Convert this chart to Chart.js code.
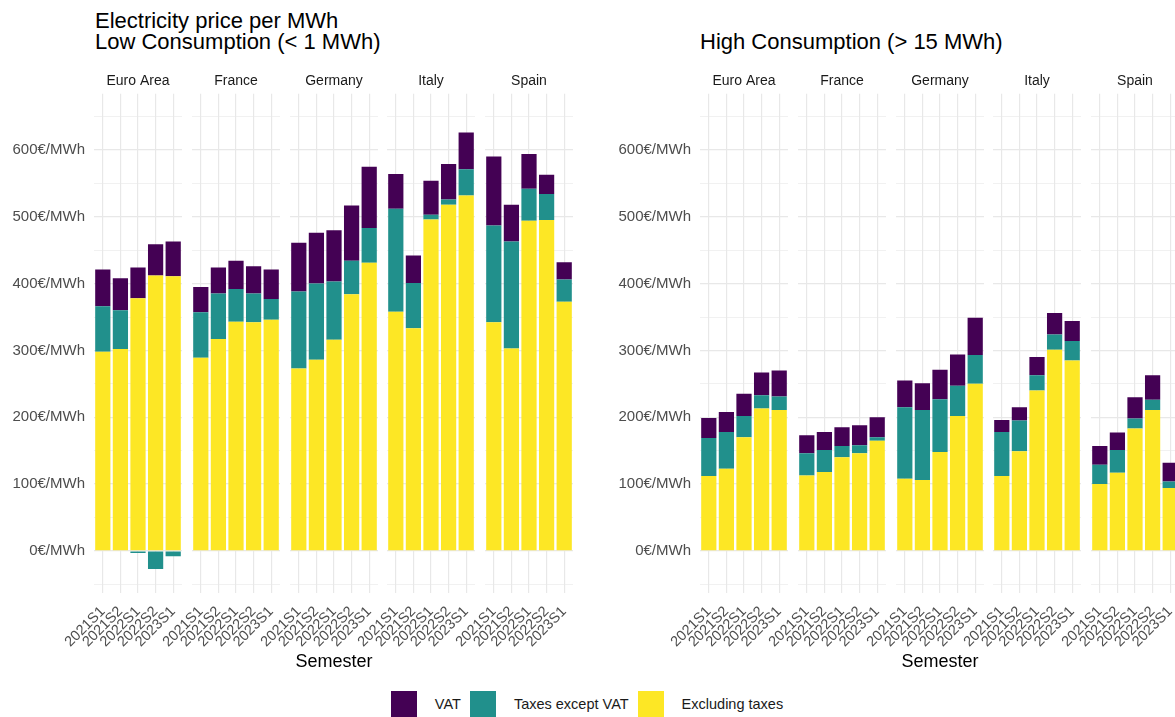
<!DOCTYPE html>
<html>
<head>
<meta charset="utf-8">
<script src="https://cdn.jsdelivr.net/npm/chart.js@4.4.0/dist/chart.umd.min.js"></script>
<style>
  html, body { margin: 0; width: 1175px; height: 717px; overflow: hidden; background: #fff;
    font-family: 'Liberation Sans', Arial, sans-serif; }
  canvas { position: absolute; }
  .title { position: absolute; font-size: 22px; line-height: 21px; color: #000; white-space: nowrap; }
  #legend { position: absolute; top: 691px; left: 4px; width: 1175px; display: flex;
    justify-content: center; align-items: center; font-size: 14.5px; color: #1a1a1a; }
  #legend .box { width: 26px; height: 26px; margin-right: 18px; }
  #legend .txt { margin-right: 9px; }
</style>
</head>
<body>
<div class="title" style="left:95px; top:10px">Electricity price per MWh<br>Low Consumption (&lt; 1 MWh)</div>
<div class="title" style="left:700px; top:31px">High Consumption (&gt; 15 MWh)</div>
<div id="legend"></div>
<script>
  const semesters = ['2021S1', '2021S2', '2022S1', '2022S2', '2023S1'];
  const countries = ['Euro Area', 'France', 'Germany', 'Italy', 'Spain'];

  // low consumption (< 1 MWh), one row per country, €/MWh
  const lowExcl = [
    [298, 302, 378, 412, 411],
    [289, 317, 343, 342, 346],
    [273, 286, 316, 384, 431],
    [358, 333, 496, 518, 532],
    [342, 303, 494, 495, 373]
  ];
  const lowTaxes = [
    [68, 58, -3, -27, -8],
    [68, 68, 49, 43, 31],
    [115, 114, 87, 50, 52],
    [154, 68, 7, 8, 39],
    [145, 160, 48, 39, 33]
  ];
  const lowVat = [
    [55, 48, 46, 47, 52],
    [38, 39, 42, 41, 44],
    [73, 76, 77, 83, 92],
    [52, 41, 51, 53, 55],
    [103, 55, 52, 29, 26]
  ];

  // high consumption (> 15 MWh)
  const highExcl = [
    [112, 123, 170, 213, 211],
    [113, 118, 140, 146, 165],
    [108, 106, 148, 202, 250],
    [112, 149, 240, 301, 285],
    [100, 117, 183, 211, 94]
  ];
  const highTaxes = [
    [57, 55, 32, 20, 20],
    [33, 33, 17, 12, 5],
    [107, 105, 79, 45, 43],
    [66, 46, 23, 23, 29],
    [29, 34, 15, 15, 10]
  ];
  const highVat = [
    [30, 30, 33, 34, 39],
    [27, 27, 28, 30, 30],
    [40, 40, 44, 47, 56],
    [18, 20, 27, 32, 30],
    [28, 26, 32, 37, 28]
  ];

  const seriesNames = ['Excluding taxes', 'Taxes except VAT', 'VAT'];
  const seriesColors = ['#fde725', '#21908c', '#440154'];

  const facetStep = 97.75, facetWidth = 88;
  const yAxisWidth = 94, spareLeft = 40, spareRight = 6;
  const canvasTop = 60, canvasHeight = 615, plotBottom = 593;
  const gridColor = '#e8e8e8';

  function makeFacet(panelLeft, k, excl, taxes, vat) {
    const first = k === 0;
    const axisW = first ? yAxisWidth : spareLeft;
    const areaLeft = Math.round(panelLeft + k * facetStep);
    const canvas = document.createElement('canvas');
    canvas.width = axisW + facetWidth + spareRight;
    canvas.height = canvasHeight;
    canvas.style.left = (areaLeft - axisW) + 'px';
    canvas.style.top = canvasTop + 'px';
    document.body.appendChild(canvas);

    return new Chart(canvas, {
      type: 'bar',
      data: {
        labels: semesters,
        datasets: [excl, taxes, vat].map((d, i) => ({
          label: seriesNames[i],
          data: d,
          backgroundColor: seriesColors[i],
          borderWidth: 0
        }))
      },
      options: {
        responsive: false,
        animation: false,
        layout: { padding: { right: spareRight } },
        datasets: { bar: { barPercentage: 0.865, categoryPercentage: 1 } },
        plugins: {
          legend: { display: false },
          tooltip: { enabled: false },
          title: {
            display: true, fullSize: false, text: countries[k], color: '#1a1a1a',
            font: { size: 14, family: 'Liberation Sans', weight: 'normal' },
            padding: { top: 13, bottom: 4 }
          }
        },
        scales: {
          x: {
            stacked: true,
            offset: true,
            grid: { offset: false, color: gridColor, lineWidth: 1.2, drawTicks: false },
            border: { display: false },
            ticks: {
              autoSkip: false, minRotation: 45, maxRotation: 45, padding: 10,
              color: '#4d4d4d', font: { size: 14.5, family: 'Liberation Sans' }
            },
            title: {
              display: k === 2, text: 'Semester', color: '#000',
              font: { size: 18, family: 'Liberation Sans' }, padding: { top: 4, bottom: 2 }
            },
            afterFit: s => {
              s.height = canvasHeight - (plotBottom - canvasTop);
              s.paddingLeft = 0;
              s.paddingRight = 0;
            }
          },
          y: {
            stacked: true,
            min: -63,
            max: 684,
            grid: {
              color: gridColor, drawTicks: false,
              lineWidth: ctx => (ctx.tick && ctx.tick.value % 100 === 0) ? 1.2 : 0.6
            },
            border: { display: false },
            ticks: {
              display: first, stepSize: 50, includeBounds: false, padding: 9,
              color: '#4d4d4d', font: { size: 15, family: 'Liberation Sans' },
              callback: v => v % 100 === 0 ? v + '€/MWh' : ''
            },
            afterFit: s => { s.width = axisW; }
          }
        }
      }
    });
  }

  const charts = [];
  countries.forEach((c, k) => {
    charts.push(makeFacet(94, k, lowExcl[k], lowTaxes[k], lowVat[k]));
  });
  countries.forEach((c, k) => {
    charts.push(makeFacet(700, k, highExcl[k], highTaxes[k], highVat[k]));
  });

  // html legend, VAT first like the reference
  const legendEl = document.getElementById('legend');
  const items = Chart.defaults.plugins.legend.labels.generateLabels(charts[0]).reverse();
  items.forEach(item => {
    const box = document.createElement('div');
    box.className = 'box';
    box.style.background = item.fillStyle;
    const txt = document.createElement('div');
    txt.className = 'txt';
    txt.textContent = item.text;
    legendEl.appendChild(box);
    legendEl.appendChild(txt);
  });
</script>
</body>
</html>
